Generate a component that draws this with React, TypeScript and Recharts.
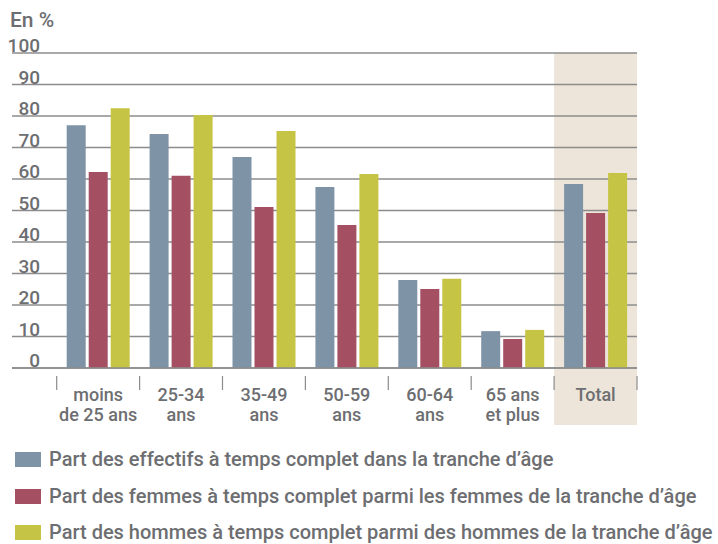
import React from 'react';
import { BarChart, Bar, XAxis, YAxis, CartesianGrid, ReferenceArea } from 'recharts';

// categories and the two-line tick labels under each group
const categories = ['moins de 25 ans', '25-34 ans', '35-49 ans', '50-59 ans', '60-64 ans', '65 ans et plus', 'Total'];
const tickLabels = [['moins', 'de 25 ans'], ['25-34', 'ans'], ['35-49', 'ans'], ['50-59', 'ans'], ['60-64', 'ans'], ['65 ans', 'et plus'], ['Total']];

// values in %
const effectifs = [77.1, 74.3, 67.0, 57.5, 27.9, 11.7, 58.4];
const femmes = [62.2, 61.0, 51.1, 45.4, 25.1, 9.2, 49.2];
const hommes = [82.5, 80.3, 75.2, 61.6, 28.3, 12.1, 61.9];

const yTicks = [0, 10, 20, 30, 40, 50, 60, 70, 80, 90, 100];

const seriesNames = [
  'Part des effectifs à temps complet dans la tranche d’âge',
  'Part des femmes à temps complet parmi les femmes de la tranche d’âge',
  'Part des hommes à temps complet parmi des hommes de la tranche d’âge',
];
const seriesColors = ['#7f93a7', '#a44f62', '#c6c444'];

const data = categories.map((c, i) => ({ name: c, effectifs: effectifs[i], femmes: femmes[i], hommes: hommes[i] }));

const FONT = 'Roboto, "DejaVu Sans", sans-serif';
const TEXT = '#6d6e71';
const GRID = '#8c8c8c';

const W = 718;
const H = 430;
const TOP = 53;
const RIGHT = 81;
const Y_W = 12;
const X_H = 62;
const PAD_LEFT = 44.7;
const PLOT_BOTTOM = H - X_H;
const BAND = (W - RIGHT - Y_W - PAD_LEFT) / categories.length;

const YTick = ({ y, payload }: any) => (
  <text x={40} y={y - 1} textAnchor="end" fill={TEXT} fontSize={19} fontWeight={500} fontFamily={FONT}>
    {payload.value}
  </text>
);

const XTick = ({ x, index }: any) => {
  const lines = tickLabels[index] || [];
  const last = index === categories.length - 1;
  return (
    <g>
      <line x1={x - BAND / 2} x2={x - BAND / 2} y1={PLOT_BOTTOM + 8} y2={PLOT_BOTTOM + 22} stroke={GRID} strokeWidth={1.2} />
      {last && (
        <line x1={x + BAND / 2} x2={x + BAND / 2} y1={PLOT_BOTTOM + 8} y2={PLOT_BOTTOM + 22} stroke={GRID} strokeWidth={1.2} />
      )}
      {lines.map((l, i) => (
        <text key={i} x={x} y={PLOT_BOTTOM + 33 + i * 20} textAnchor="middle" fill={TEXT} fontSize={18} fontWeight={500} fontFamily={FONT}>
          {l}
        </text>
      ))}
    </g>
  );
};

const TotalShade = (p: any) => (
  <rect x={p.x} y={p.y} width={p.width} height={p.height + 57} fill="#ede5da" />
);

export default function App() {
  return (
    <div style={{ position: 'absolute', left: 0, top: 0, width: W, height: 544, background: '#fff', fontFamily: FONT }}>
      <div style={{ position: 'absolute', left: 10, top: 10, fontSize: 21, fontWeight: 500, lineHeight: '20px', color: TEXT }}>En %</div>
      <BarChart width={W} height={H} data={data} margin={{ top: TOP, right: RIGHT, left: 0, bottom: 0 }} barGap={3}>
        <ReferenceArea x1="Total" x2="Total" y1={0} y2={100} ifOverflow="visible" shape={TotalShade} zIndex={-150} />
        <CartesianGrid vertical={false} stroke={GRID} strokeWidth={1.5} />
        <YAxis
          width={Y_W}
          domain={[0, 100]}
          ticks={yTicks}
          axisLine={false}
          tickLine={false}
          tick={<YTick />}
          interval={0}
        />
        <XAxis
          dataKey="name"
          height={X_H}
          padding={{ left: PAD_LEFT, right: 0 }}
          axisLine={{ stroke: GRID, strokeWidth: 1.5 }}
          tickLine={false}
          tick={<XTick />}
          interval={0}
        />
        <Bar dataKey="effectifs" fill={seriesColors[0]} barSize={19} isAnimationActive={false} />
        <Bar dataKey="femmes" fill={seriesColors[1]} barSize={19} isAnimationActive={false} />
        <Bar dataKey="hommes" fill={seriesColors[2]} barSize={19} isAnimationActive={false} />
      </BarChart>
      <div style={{ position: 'absolute', left: 15, top: 452 }}>
        {seriesNames.map((n, i) => (
          <div key={n} style={{ display: 'flex', alignItems: 'center', height: 15, marginBottom: 21.5 }}>
            <div style={{ width: 26, height: 15, background: seriesColors[i], marginRight: 8 }} />
            <span style={{ fontSize: 20, fontWeight: 500, lineHeight: '15px', color: TEXT, whiteSpace: 'nowrap' }}>{n}</span>
          </div>
        ))}
      </div>
    </div>
  );
}
